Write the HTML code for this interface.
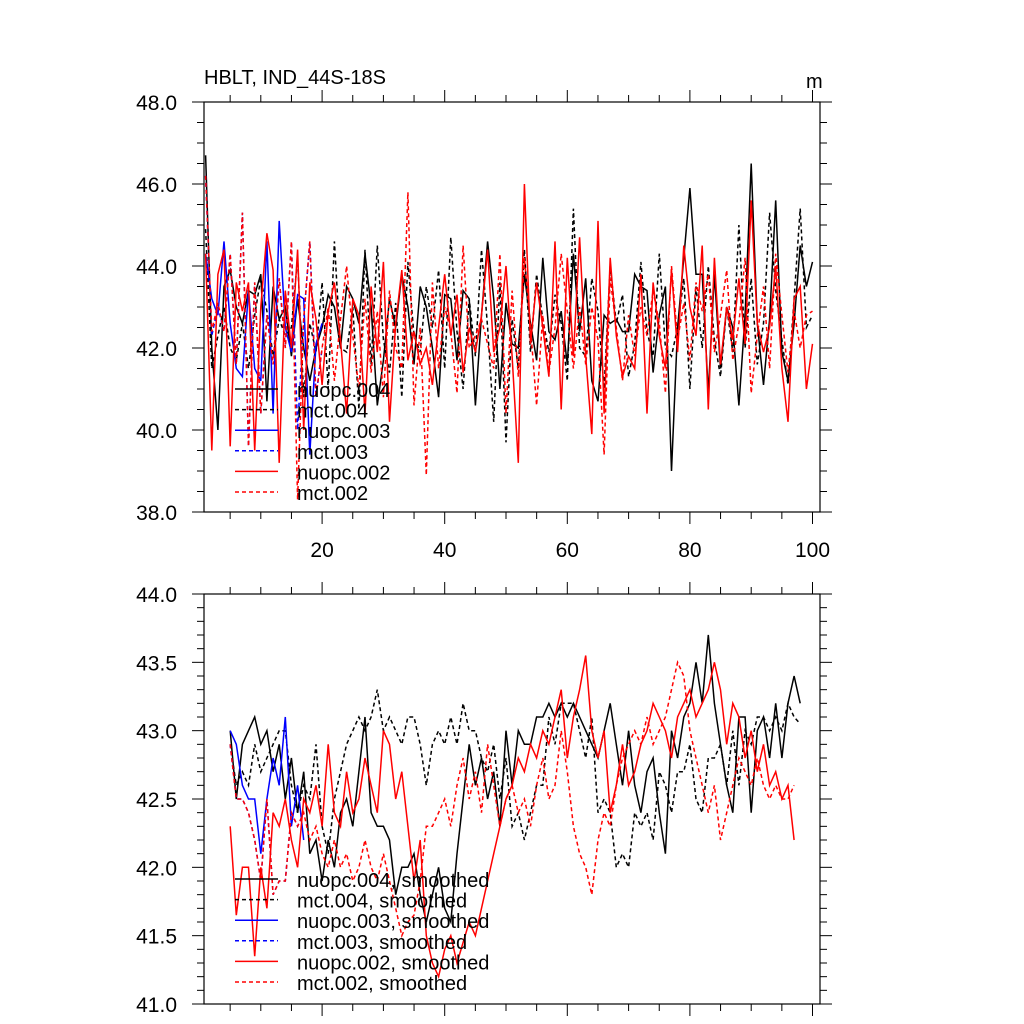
<!DOCTYPE html>
<html><head><meta charset="utf-8"><style>
body{margin:0;background:#fff;}
svg{display:block;font-family:"Liberation Sans",sans-serif;}
</style></head><body>
<svg id="chart" width="1024" height="1024" viewBox="0 0 1024 1024" xmlns="http://www.w3.org/2000/svg">
<text x="204" y="84" font-size="20">HBLT, IND_44S-18S</text>
<text x="806" y="88" font-size="20">m</text>
<g id="top"></g>
<g id="bot"></g>
</svg>
<script>
const xTickLabels=[20,40,60,80,100];
const topYTicks=[38,40,42,44,46,48];
const botYTicks=[41,41.5,42,42.5,43,43.5,44];
const topNuopc004=[46.7,42.0,40.0,43.5,43.9,43.0,42.6,43.4,43.3,43.8,40.7,43.5,42.7,43.0,41.8,43.2,42.0,41.2,42.0,42.5,43.3,43.0,42.0,43.5,43.2,42.6,44.3,43.0,40.6,41.7,43.2,42.5,43.8,43.0,41.6,43.5,43.0,42.0,40.8,43.3,43.2,41.7,43.4,43.2,40.6,42.8,44.6,43.2,41.0,43.1,42.1,42.0,43.8,42.6,41.7,44.2,42.4,42.2,42.9,41.6,44.3,42.4,43.7,41.2,40.7,42.8,42.6,42.7,42.4,42.4,43.8,43.5,43.4,41.4,42.8,43.5,39.0,42.5,44.2,45.9,43.8,43.8,40.9,43.8,41.5,43.0,42.5,40.6,42.8,46.5,42.6,41.1,42.7,45.6,41.9,41.2,42.6,44.5,43.5,44.1];
const topMct004=[44.9,41.5,42.3,43.0,42.0,41.7,42.6,41.5,42.8,43.7,42.9,41.8,42.7,42.3,42.5,44.2,40.8,42.6,41.9,43.6,41.0,44.6,42.0,41.9,43.0,40.5,44.4,41.6,44.5,42.2,41.4,43.1,40.8,44.1,42.3,41.9,43.5,42.5,43.9,41.5,44.7,42.4,41.0,43.2,41.8,44.4,42.5,40.2,43.6,39.7,42.7,41.5,44.4,41.9,43.8,42.7,41.9,43.3,42.6,41.2,45.4,42.0,41.8,43.7,42.9,41.0,44.0,42.6,43.3,41.3,42.1,44.1,42.4,41.8,44.3,42.0,41.8,42.5,43.7,41.0,43.5,42.0,44.0,42.2,41.3,43.0,41.9,45.0,42.0,43.7,41.6,42.6,45.3,43.4,42.2,41.1,43.2,45.4,42.5,42.8];
const topNuopc003=[44.3,43.2,42.8,44.6,42.6,41.5,41.3,43.4,41.5,41.2,44.6,40.4,45.1,42.5,41.9,43.3,43.2,39.4,42.1,42.6];
const topMct003=[46.2,42.3,43.0,42.4,44.3,41.6,45.3,39.6,43.6,40.4,42.8,41.6,43.7,42.0,44.6,40.0,42.7,44.6,40.8,42.0];
const topNuopc002=[44.3,39.5,43.8,44.4,39.6,43.6,42.9,43.6,39.5,43.0,44.8,43.9,39.2,43.4,42.0,44.4,40.0,43.6,42.7,41.1,42.9,43.6,42.2,40.4,43.2,42.8,40.4,43.5,41.9,44.1,40.2,42.6,43.9,41.7,42.4,41.6,42.0,41.1,42.5,43.8,42.3,43.3,41.4,42.5,41.9,42.8,44.4,41.9,42.5,44.0,41.8,39.2,46.0,42.1,43.6,42.5,41.3,44.6,40.5,44.2,41.8,44.7,41.8,39.9,45.1,40.4,44.2,42.3,41.3,41.8,41.5,43.8,40.4,43.6,42.3,41.5,43.9,41.9,44.5,43.0,42.3,44.5,40.5,44.2,41.6,43.0,42.2,43.7,42.1,45.6,42.6,41.9,42.5,44.0,41.5,40.2,43.2,43.5,41.0,42.1];
const topMct002=[46.2,42.4,43.1,42.4,44.3,41.6,45.3,39.6,43.6,40.4,42.8,41.6,43.7,42.0,44.6,38.3,42.7,44.6,40.8,42.0,43.0,41.2,42.7,44.0,42.3,41.0,43.2,41.4,42.9,40.8,43.4,42.0,41.5,45.8,40.6,42.5,38.9,43.6,41.5,43.0,42.4,40.9,44.5,42.0,42.3,42.7,42.1,41.5,44.3,40.4,43.4,41.3,44.2,42.5,40.6,42.8,41.4,42.5,44.3,42.9,41.5,43.0,41.6,43.0,42.2,39.4,43.7,42.5,41.2,42.8,41.8,43.0,42.3,43.4,42.6,40.9,44.0,42.2,43.1,41.7,43.6,42.9,43.8,41.9,42.8,43.9,41.7,42.6,44.2,40.9,42.3,43.5,41.5,44.3,42.8,41.4,42.9,42.0,42.8,42.9];
const botNuopc004=[43.0,42.5,42.9,43.0,43.1,42.9,43.0,42.7,42.9,42.5,42.8,42.4,42.7,42.1,42.2,41.9,42.2,42.0,42.4,42.5,42.3,42.7,43.1,42.4,42.3,42.3,42.2,41.8,42.0,42.0,42.1,41.8,41.6,41.8,42.0,41.7,41.6,42.1,42.5,42.9,42.6,42.8,42.5,42.7,42.3,43.0,42.6,43.0,42.9,42.9,43.1,43.1,43.2,43.1,43.2,43.1,43.2,43.1,43.0,42.9,42.8,43.0,43.2,42.9,42.6,43.0,42.6,42.4,42.7,42.8,42.4,42.1,43.0,42.8,43.1,43.2,43.5,43.2,43.7,43.2,42.9,42.6,42.4,43.1,43.1,42.4,43.0,43.1,42.8,43.2,42.8,43.2,43.4,43.2];
const botMct004=[42.9,42.6,42.7,42.6,42.9,42.7,42.8,42.9,43.0,43.0,42.6,42.4,42.6,42.5,42.9,42.3,42.1,42.5,42.7,42.9,43.0,43.1,43.0,43.1,43.3,43.0,43.1,43.0,42.9,43.1,43.1,42.9,42.6,42.9,43.0,42.9,43.1,42.9,43.2,43.0,43.0,42.8,42.7,42.9,42.5,42.8,42.3,42.4,42.2,42.4,42.6,42.6,43.1,42.9,43.2,43.2,43.2,43.0,42.8,43.1,42.4,42.5,42.4,42.0,42.1,42.0,42.4,42.3,42.4,42.2,42.7,42.6,42.4,42.7,42.7,42.9,42.5,42.4,42.8,42.8,42.9,42.6,43.0,42.6,43.0,42.9,43.1,43.1,43.0,43.1,43.0,43.2,43.1,43.05];
const botNuopc003=[43.0,42.9,42.6,42.5,42.5,42.1,42.5,42.8,42.6,43.1,42.3,42.6,42.2];
const botMct003=[42.9,42.5,42.5,42.4,42.2,41.9,42.5,41.8,41.9,41.9,42.4,42.3,42.4];
const botNuopc002=[42.3,41.65,42.0,42.0,41.35,42.0,41.7,42.4,42.3,42.5,42.2,42.0,42.5,42.4,42.6,42.3,42.9,42.4,42.3,42.7,42.4,42.5,42.8,42.6,42.4,43.0,42.9,42.5,42.7,42.3,41.9,42.2,41.5,41.3,41.2,41.4,41.5,41.3,41.45,41.6,41.5,41.7,41.9,42.1,42.3,42.5,42.6,42.8,42.7,42.9,42.8,43.0,42.9,43.1,43.3,42.8,43.1,43.3,43.55,43.0,42.8,43.0,42.4,42.6,42.9,42.6,42.7,42.9,43.0,43.2,43.1,43.0,42.8,43.1,43.2,43.3,43.1,43.2,43.3,43.5,43.3,42.9,43.2,43.1,42.8,43.0,42.7,42.9,42.6,42.7,42.5,42.6,42.2];
const botMct002=[42.9,42.5,42.5,42.4,42.2,41.9,42.5,41.8,41.9,41.9,42.4,42.3,42.4,42.2,42.3,42.1,42.0,42.2,42.0,42.1,41.9,42.0,42.2,42.0,41.9,42.1,41.9,41.7,41.5,41.6,41.65,41.9,42.3,42.3,42.4,42.5,42.3,42.6,42.8,42.5,42.7,42.4,42.9,42.6,42.3,42.5,42.6,42.4,42.5,42.3,42.6,42.8,42.5,42.6,43.0,42.7,42.3,42.1,42.0,41.8,42.2,42.4,42.3,42.6,42.8,42.9,43.0,42.9,43.1,42.9,43.0,43.1,43.3,43.5,43.4,43.0,42.8,42.6,42.4,42.6,42.2,42.4,42.6,42.8,42.7,42.6,42.8,42.6,42.5,42.6,42.5,42.5,42.6];

const NS="http://www.w3.org/2000/svg";
const L=204,R=820;
function xs(v){return 199.5+6.13*v;}
function mk(parent,tag,attrs){const e=document.createElementNS(NS,tag);for(const k in attrs)e.setAttribute(k,attrs[k]);parent.appendChild(e);return e;}

function panel(g,top,bot,ymin,ymax,yTicks,yMinorStep,showXLabels){
  const ys=v=>bot-(v-ymin)/(ymax-ymin)*(bot-top);
  const frame=mk(g,'rect',{x:L,y:top,width:R-L,height:bot-top,fill:'none',stroke:'#000','stroke-width':1.2});
  
  
  for(let v=0;v<=100;v+=5){const x=xs(v);if(x<L||x>R)continue;const maj=v%20===0;const len=maj?12:7;
    mk(g,'line',{x1:x,y1:top,x2:x,y2:top-len,stroke:'#000','stroke-width':1});
    mk(g,'line',{x1:x,y1:bot,x2:x,y2:bot+len,stroke:'#000','stroke-width':1});}
  if(showXLabels){xTickLabels.forEach(v=>{const t=mk(g,'text',{x:xs(v),y:bot+45,'font-size':21,'text-anchor':'middle'});t.textContent=v;
    
    });}
  const n=Math.round((ymax-ymin)/yMinorStep);
  for(let i=0;i<=n;i++){const v=ymin+i*yMinorStep;const y=ys(v);const maj=yTicks.some(t=>Math.abs(t-v)<1e-6);const len=maj?12:7;
    mk(g,'line',{x1:L,y1:y,x2:L-len,y2:y,stroke:'#000','stroke-width':1});
    mk(g,'line',{x1:R,y1:y,x2:R+len,y2:y,stroke:'#000','stroke-width':1});}
  yTicks.forEach(v=>{const t=mk(g,'text',{x:177,y:ys(v)+8,'font-size':21,'text-anchor':'end'});t.textContent=v.toFixed(1);
    
    });
  return ys;
}
function series(g,data,x0,ys,color,dash,name){
  const pts=data.map((v,i)=>xs(x0+i).toFixed(1)+','+ys(v).toFixed(1)).join(' ');
  const p=mk(g,'polyline',{points:pts,fill:'none',stroke:color,'stroke-width':1.5,'stroke-dasharray':dash?'4 3':'none'});
  
  
}
function legend(g,y0,labels){
  const styles=[['#000',0],['#000',1],['#00f',0],['#00f',1],['#f00',0],['#f00',1]];
  labels.forEach((lab,i)=>{const y=y0+i*20.6;
    const l=mk(g,'line',{x1:235,y1:y,x2:278,y2:y,stroke:styles[i][0],'stroke-width':1.5,'stroke-dasharray':styles[i][1]?'4 3':'none'});
    
    
    const t=mk(g,'text',{x:297,y:y+8,'font-size':20});t.textContent=lab;
    
    });
}
const gt=document.getElementById('top'),gb=document.getElementById('bot');
const yt=panel(gt,102,512,38,48,topYTicks,0.5,true);
series(gt,topNuopc004,1,yt,'#000',0,'top-nuopc004-line');
series(gt,topMct004,1,yt,'#000',1,'top-mct004-line');
series(gt,topNuopc003,1,yt,'#00f',0,'top-nuopc003-line');
series(gt,topMct003,1,yt,'#00f',1,'top-mct003-line');
series(gt,topNuopc002,1,yt,'#f00',0,'top-nuopc002-line');
series(gt,topMct002,1,yt,'#f00',1,'top-mct002-line');
legend(gt,389,['nuopc.004','mct.004','nuopc.003','mct.003','nuopc.002','mct.002']);
const yb=panel(gb,594,1004,41,44,botYTicks,0.1,false);
series(gb,botNuopc004,5,yb,'#000',0,'bottom-nuopc004-line');
series(gb,botMct004,5,yb,'#000',1,'bottom-mct004-line');
series(gb,botNuopc003,5,yb,'#00f',0,'bottom-nuopc003-line');
series(gb,botMct003,5,yb,'#00f',1,'bottom-mct003-line');
series(gb,botNuopc002,5,yb,'#f00',0,'bottom-nuopc002-line');
series(gb,botMct002,5,yb,'#f00',1,'bottom-mct002-line');
legend(gb,879,['nuopc.004, smoothed','mct.004, smoothed','nuopc.003, smoothed','mct.003, smoothed','nuopc.002, smoothed','mct.002, smoothed']);
</script>
</body></html>
